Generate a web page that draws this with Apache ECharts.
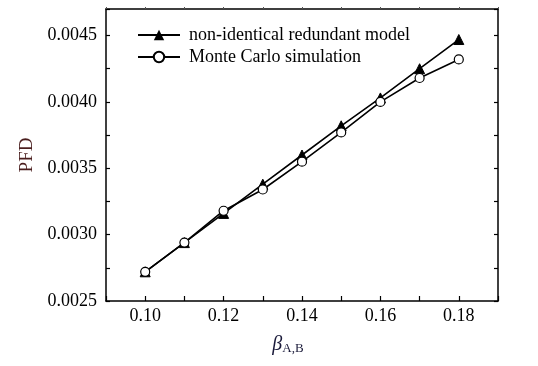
<!DOCTYPE html>
<html>
<head>
<meta charset="utf-8">
<script src="https://cdn.jsdelivr.net/npm/echarts@6/dist/echarts.min.js"></script>
<style>
html,body{margin:0;padding:0;background:#fff;}
#c{width:538px;height:366px;}
</style>
</head>
<body>
<div id="c"></div>
<script>
const betaValues = [0.10, 0.11, 0.12, 0.13, 0.14, 0.15, 0.16, 0.17, 0.18];
const modelPFD = [0.00272, 0.00294, 0.00316, 0.00338, 0.00360, 0.00382, 0.00403, 0.00425, 0.00447];
const monteCarloPFD = [0.00272, 0.00294, 0.00318, 0.00334, 0.00355, 0.00377, 0.00400, 0.00418, 0.00432];
const seriesNames = ['non-identical redundant model', 'Monte Carlo simulation'];
const xTickLabels = ['0.10', '0.12', '0.14', '0.16', '0.18'];
const yTickLabels = ['0.0025', '0.0030', '0.0035', '0.0040', '0.0045'];

const FONT = '"Liberation Serif", "Times New Roman", serif';
const chart = echarts.init(document.getElementById('c'), null, {renderer: 'canvas'});

const pairs = (ys) => betaValues.map((x, i) => [x, ys[i]]);

const xLabel = (v) => { const s = v.toFixed(2); return xTickLabels.includes(s) ? s : ''; };
const yLabel = (v) => { const s = v.toFixed(4); return (yTickLabels.includes(s) && Math.abs(v - parseFloat(s)) < 1e-7) ? s : ''; };

const axisLine = {show: true, lineStyle: {color: '#000', width: 1.5}};

chart.setOption({
  animation: false,
  backgroundColor: '#fff',
  grid: {left: 106, right: 40, top: 9, bottom: 65, containLabel: false},
  legend: {
    orient: 'vertical',
    left: 132,
    top: 21,
    itemWidth: 42,
    itemHeight: 13,
    itemGap: 4,
    data: seriesNames,
    textStyle: {fontFamily: FONT, fontSize: 18, color: '#000', padding: [0, 0, 0, 4]}
  },
  xAxis: [{
    type: 'value', min: 0.09, max: 0.19, interval: 0.01,
    axisLine: axisLine,
    axisTick: {show: true, inside: true, length: 5, lineStyle: {color: '#000', width: 1.2}},
    axisLabel: {formatter: xLabel, fontFamily: FONT, fontSize: 18, color: '#000', margin: 6},
    splitLine: {show: false},
    name: '{b|β}{s|A,B}',
    nameLocation: 'middle',
    nameGap: 33,
    nameTextStyle: {
      padding: [0, 28, 0, 0],
      rich: {
        b: {fontFamily: FONT, fontStyle: 'italic', fontSize: 20, color: '#1a1a3a'},
        s: {fontFamily: FONT, fontSize: 13, color: '#1a1a3a', padding: [8, 0, 0, 0]}
      }
    }
  }, {
    type: 'value', position: 'top', min: 0.09, max: 0.19, interval: 0.01,
    axisLine: axisLine,
    axisTick: {show: true, inside: false, length: 2, lineStyle: {color: '#555', width: 1}},
    axisLabel: {show: false},
    splitLine: {show: false}
  }],
  yAxis: [{
    type: 'value', min: 0.0025, max: 0.0047, interval: 0.00025,
    axisLine: axisLine,
    axisTick: {show: true, inside: true, length: 4, lineStyle: {color: '#000', width: 1.2}},
    axisLabel: {formatter: yLabel, fontFamily: FONT, fontSize: 18, color: '#000', margin: 9},
    splitLine: {show: false},
    name: 'PFD',
    nameLocation: 'middle',
    nameGap: 68,
    nameRotate: 90,
    nameTextStyle: {fontFamily: FONT, fontSize: 19, color: '#4a1e1e'}
  }, {
    type: 'value', position: 'right', min: 0.0025, max: 0.0047, interval: 0.00025,
    axisLine: axisLine,
    axisTick: {show: true, inside: true, length: 4, lineStyle: {color: '#000', width: 1.2}},
    axisLabel: {show: false},
    splitLine: {show: false}
  }],
  series: [{
    name: seriesNames[0],
    type: 'line',
    data: pairs(modelPFD),
    symbol: 'triangle',
    symbolSize: 10,
    itemStyle: {color: '#000', borderColor: '#000'},
    lineStyle: {color: '#000', width: 1.6},
    z: 3
  }, {
    name: seriesNames[1],
    type: 'line',
    data: pairs(monteCarloPFD),
    symbol: 'circle',
    symbolSize: 9,
    itemStyle: {color: '#fff', borderColor: '#000', borderWidth: 1.2},
    lineStyle: {color: '#000', width: 1.6},
    z: 4
  }]
});
</script>
</body>
</html>
